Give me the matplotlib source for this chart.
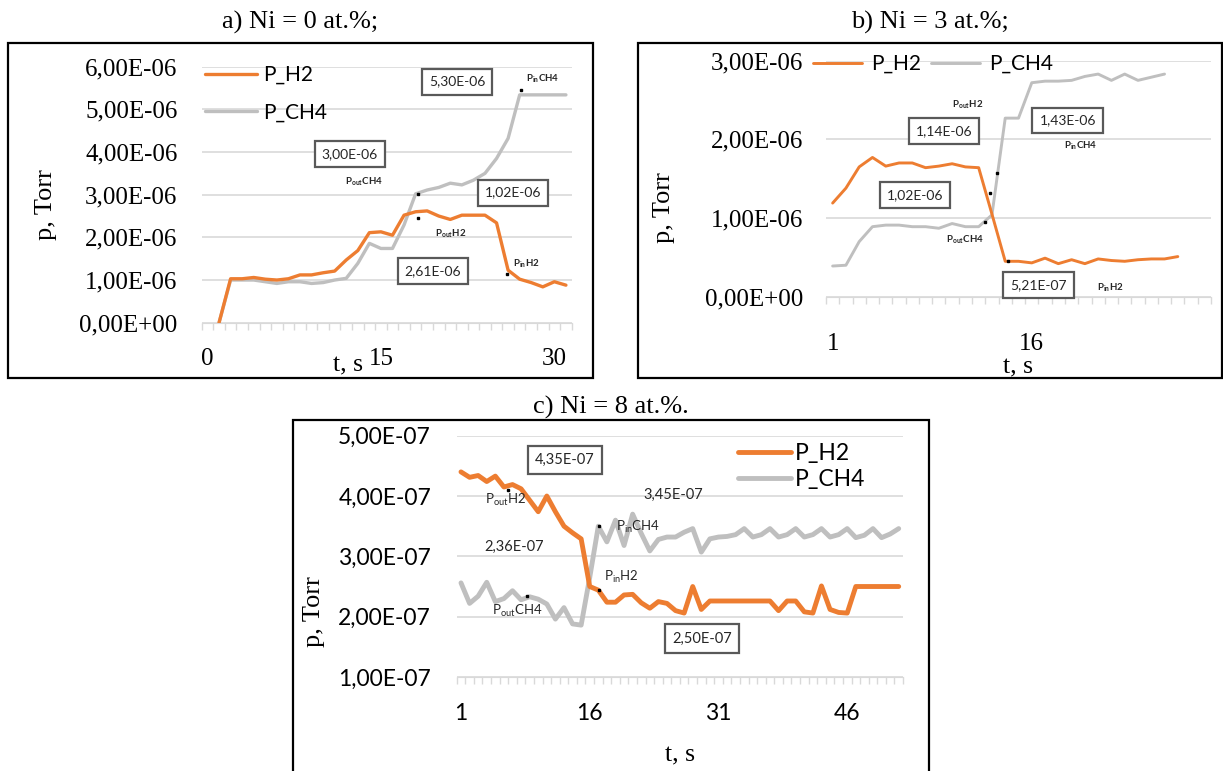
import numpy as np
import matplotlib.pyplot as plt
from matplotlib.patches import Rectangle
from matplotlib.ticker import FuncFormatter

SERIF = "Liberation Serif"
SANS = "Lato"
ORANGE = "#ED7D31"
GREY = "#BFBFBF"
GRID = "#D9D9D9"

plt.rcParams["mathtext.fontset"] = "custom"
plt.rcParams["mathtext.rm"] = SANS
plt.rcParams["mathtext.bf"] = SANS + ":bold"

# --- a) Ni = 0 at.%  (values in 1e-6 Torr, t = 0..31) ---
t_a = np.arange(0, 32)
h2_a = [np.nan, 0.0, 1.03, 1.03, 1.06, 1.02, 1.00, 1.03, 1.12, 1.12, 1.17, 1.21,
        1.47, 1.69, 2.11, 2.13, 2.05, 2.52, 2.60, 2.62, 2.50, 2.42, 2.52, 2.52,
        2.52, 2.34, 1.23, 1.02, 0.94, 0.84, 0.96, 0.88]
ch4_a = [np.nan, 0.0, 1.00, 1.00, 1.00, 0.96, 0.92, 0.96, 0.96, 0.92, 0.94, 1.00,
         1.04, 1.39, 1.86, 1.74, 1.74, 2.29, 3.02, 3.11, 3.17, 3.27, 3.23, 3.34,
         3.50, 3.85, 4.32, 5.34, 5.34, 5.34, 5.34, 5.34]

# --- b) Ni = 3 at.%  (values in 1e-6 Torr, t = 1..27 / 1..26) ---
h2_b = [1.19, 1.38, 1.65, 1.77, 1.66, 1.70, 1.70, 1.64, 1.66, 1.69, 1.65, 1.64,
        1.05, 0.45, 0.45, 0.43, 0.49, 0.42, 0.47, 0.42, 0.48, 0.46, 0.45, 0.47,
        0.48, 0.48, 0.51]
ch4_b = [0.39, 0.40, 0.70, 0.89, 0.91, 0.91, 0.89, 0.89, 0.87, 0.93, 0.89, 0.89,
         1.04, 2.27, 2.27, 2.72, 2.74, 2.74, 2.75, 2.80, 2.83, 2.75, 2.83, 2.75,
         2.79, 2.83]

# --- c) Ni = 8 at.%  (values in 1e-7 Torr, t = 1..52) ---
h2_c = [4.40, 4.31, 4.34, 4.24, 4.33, 4.15, 4.19, 4.12, 3.93, 3.74, 4.00, 3.74,
        3.50, 3.39, 3.29, 2.50, 2.44, 2.24, 2.24, 2.36, 2.37, 2.23, 2.14, 2.25,
        2.22, 2.10, 2.06, 2.50, 2.12, 2.26, 2.26, 2.26, 2.26, 2.26, 2.26, 2.26,
        2.26, 2.10, 2.26, 2.26, 2.08, 2.06, 2.51, 2.12, 2.07, 2.06, 2.50, 2.50,
        2.50, 2.50, 2.50, 2.50]
ch4_c = [2.56, 2.22, 2.34, 2.57, 2.25, 2.30, 2.43, 2.28, 2.33, 2.29, 2.21, 1.96,
         2.15, 1.88, 1.86, 2.65, 3.50, 3.24, 3.60, 3.18, 3.70, 3.38, 3.09, 3.28,
         3.32, 3.32, 3.40, 3.46, 3.07, 3.29, 3.32, 3.33, 3.36, 3.46, 3.32, 3.36,
         3.46, 3.32, 3.36, 3.46, 3.32, 3.36, 3.46, 3.32, 3.36, 3.46, 3.31, 3.35,
         3.46, 3.31, 3.37, 3.46]

# boxed values, free text and P labels: (x, y, text)
boxes_a = [(21.6, 5.65, "5,30E-06"), (12.3, 3.96, "3,00E-06"),
           (26.4, 3.05, "1,02E-06"), (19.5, 1.21, "2,61E-06")]
plabels_a = [(29.0, 5.73, r"P$_{\mathbf{in}}$CH4"), (13.5, 3.30, r"P$_{\mathbf{out}}$CH4"),
             (21.0, 2.08, r"P$_{\mathbf{out}}$H2"), (27.6, 1.38, r"P$_{\mathbf{in}}$H2")]
dots_a = [(18.2, 3.02), (18.2, 2.45), (27.1, 5.45), (25.9, 1.13)]

boxes_b = [(9.4, 2.11, "1,14E-06"), (18.7, 2.24, "1,43E-06"),
           (7.2, 1.29, "1,02E-06"), (16.5, 0.15, "5,21E-07")]
plabels_b = [(11.2, 2.44, r"P$_{\mathbf{out}}$H2"), (19.7, 1.92, r"P$_{\mathbf{in}}$CH4"),
             (11.0, 0.72, r"P$_{\mathbf{out}}$CH4"), (21.9, 0.11, r"P$_{\mathbf{in}}$H2")]
dots_b = [(12.86, 1.32), (13.4, 1.57), (12.5, 0.95), (14.2, 0.45)]

boxes_c = [(13.1, 4.60, "4,35E-07"), (29.1, 1.64, "2,50E-07")]
texts_c = [(25.7, 4.02, "3,45E-07"), (7.2, 3.16, "2,36E-07")]
plabels_c = [(6.2, 3.93, r"P$_{\mathrm{out}}$H2"), (21.6, 3.49, r"P$_{\mathrm{in}}$CH4"),
             (19.7, 2.66, r"P$_{\mathrm{in}}$H2"), (7.6, 2.09, r"P$_{\mathrm{out}}$CH4")]
dots_c = [(6.5, 4.10), (8.7, 2.34), (17.1, 3.50), (17.1, 2.45)]

W, H = 1223, 771
fig = plt.figure(figsize=(W / 100, H / 100), dpi=100)


def px_axes(x0, y0, x1, y1):
    return fig.add_axes([x0 / W, 1 - y1 / H, (x1 - x0) / W, (y1 - y0) / H])


def fig_text(x, y, s, **kw):
    fig.text(x / W, 1 - y / H, s, **kw)


def frame(x0, y0, x1, y1):
    fig.add_artist(Rectangle((x0 / W, 1 - y1 / H), (x1 - x0) / W, (y1 - y0) / H,
                             transform=fig.transFigure, fill=False, ec="black", lw=1.6))


def sci_comma(v, pos):
    return f"{v:.2E}".replace(".", ",")


def style(ax, xlim, ylim, ystep, xmajor, font, size, xpad, ypad):
    ax.set_xlim(*xlim)
    ax.set_ylim(*ylim)
    ax.set_yticks(np.arange(ylim[0], ylim[1] + ystep / 2, ystep))
    ax.yaxis.set_major_formatter(FuncFormatter(sci_comma))
    ax.set_xticks(xmajor)
    ax.set_xticklabels([str(v) for v in xmajor])
    ax.set_xticks(np.arange(xlim[0], xlim[1] + 0.5, 1), minor=True)
    for side in ["top", "right", "left"]:
        ax.spines[side].set_visible(False)
    ax.spines["bottom"].set_color(GRID)
    ax.yaxis.grid(True, color=GRID, lw=1.2)
    ax.set_axisbelow(True)
    ax.tick_params(axis="y", length=0, pad=ypad, labelsize=size, labelfontfamily=font)
    ax.tick_params(axis="x", which="major", length=0, pad=xpad, labelsize=size,
                   labelfontfamily=font)
    ax.tick_params(axis="x", which="minor", length=5, width=1, color=GRID)


def annotate(ax, scale, boxes, plabels, dots, psize, pweight, bsize):
    for x, y, s in boxes:
        ax.text(x, y * scale, s, ha="center", va="center", fontsize=bsize, family=SANS,
                color="#262626", zorder=6,
                bbox=dict(boxstyle="square,pad=0.5", fc="white", ec="#595959", lw=1.6))
    for x, y, s in plabels:
        ax.text(x, y * scale, s, ha="center", va="center", fontsize=psize, family=SANS,
                fontweight=pweight, color="#262626", zorder=6)
    for x, y in dots:
        ax.plot(x, y * scale, "s", ms=1.8, color="black", zorder=7)


line_kw = dict(solid_capstyle="round", solid_joinstyle="round")

# ---------------- panel a ----------------
frame(8, 43, 593, 378)
ax_a = px_axes(201.7, 66.7, 571.7, 322.7)
ax_a.plot(t_a, np.array(h2_a) * 1e-6, color=ORANGE, lw=2.4, label="P_H2", zorder=3, **line_kw)
ax_a.plot(t_a, np.array(ch4_a) * 1e-6, color=GREY, lw=2.4, label="P_CH4", zorder=2, **line_kw)
style(ax_a, (-0.5, 31.5), (0, 6e-6), 1e-6, [0, 15, 30], SERIF, 18, 18, 17.5)
annotate(ax_a, 1e-6, boxes_a, plabels_a, dots_a, 7, "bold", 10)
ax_a.legend(loc="upper left", bbox_to_anchor=(205 / W, 1 - 65 / H), bbox_transform=fig.transFigure,
            frameon=False, prop={"family": SANS, "size": 15}, handlelength=2.5,
            handletextpad=0.3, labelspacing=0.85, borderpad=0, borderaxespad=0)
fig_text(300, 22, "a) Ni = 0 at.%;", ha="center", va="center", family=SERIF, fontsize=19)
fig_text(46, 205, "p, Torr", ha="center", va="center", rotation=90, family=SERIF, fontsize=19)
fig_text(348, 371, "t, s", ha="center", va="baseline", family=SERIF, fontsize=18.5)

# ---------------- panel b ----------------
frame(638, 43, 1222, 378)
t_b = np.arange(1, 30)
h2_b_full = np.full(len(t_b), np.nan)
h2_b_full[:len(h2_b)] = h2_b
ch4_b_full = np.full(len(t_b), np.nan)
ch4_b_full[:len(ch4_b)] = ch4_b
ax_b = px_axes(826, 60.7, 1211, 296.7)
ax_b.plot(t_b, h2_b_full * 1e-6, color=ORANGE, lw=2.1, label="P_H2", zorder=3, **line_kw)
ax_b.plot(t_b, ch4_b_full * 1e-6, color=GREY, lw=2.1, label="P_CH4", zorder=2, **line_kw)
style(ax_b, (0.5, 29.5), (0, 3e-6), 1e-6, [1, 16], SERIF, 18, 26, 16.5)
annotate(ax_b, 1e-6, boxes_b, plabels_b, dots_b, 7, "bold", 10)
ax_b.legend(loc="upper left", bbox_to_anchor=(813 / W, 1 - 54 / H), bbox_transform=fig.transFigure,
            ncol=2, frameon=False, prop={"family": SANS, "size": 15}, handlelength=2.35,
            handletextpad=0.45, columnspacing=0.45, borderpad=0, borderaxespad=0)
fig_text(930, 22, "b) Ni = 3 at.%;", ha="center", va="center", family=SERIF, fontsize=19)
fig_text(664, 208, "p, Torr", ha="center", va="center", rotation=90, family=SERIF, fontsize=19)
fig_text(1018, 373, "t, s", ha="center", va="baseline", family=SERIF, fontsize=18.5)

# ---------------- panel c ----------------
frame(293, 420, 929, 776)
t_c = np.arange(1, 53)
ax_c = px_axes(456.7, 435.7, 903, 677)
ax_c.plot(t_c, np.array(h2_c) * 1e-7, color=ORANGE, lw=3.5, label="P_H2", zorder=3, **line_kw)
ax_c.plot(t_c, np.array(ch4_c) * 1e-7, color=GREY, lw=3.5, label="P_CH4", zorder=2, **line_kw)
style(ax_c, (0.5, 52.5), (1e-7, 5e-7), 1e-7, [1, 16, 31, 46], SANS, 16.5, 19, 18.5)
annotate(ax_c, 1e-7, boxes_c, plabels_c, dots_c, 9.5, "normal", 10.5)
for x, y, s in texts_c:
    ax_c.text(x, y * 1e-7, s, ha="center", va="center", fontsize=10.5, family=SANS,
              color="#262626", zorder=6)
ax_c.legend(loc="upper left", bbox_to_anchor=(738 / W, 1 - 443 / H), bbox_transform=fig.transFigure,
            frameon=False, prop={"family": SANS, "size": 16.5}, handlelength=2.3,
            handletextpad=0.2, labelspacing=0.2, borderpad=0, borderaxespad=0)
fig_text(611, 407, "c) Ni = 8 at.%.", ha="center", va="center", family=SERIF, fontsize=19)
fig_text(314, 612, "p, Torr", ha="center", va="center", rotation=90, family=SERIF, fontsize=19)
fig_text(680, 761, "t, s", ha="center", va="baseline", family=SERIF, fontsize=18.5)

fig.savefig("out.png", dpi=100, facecolor="white")
